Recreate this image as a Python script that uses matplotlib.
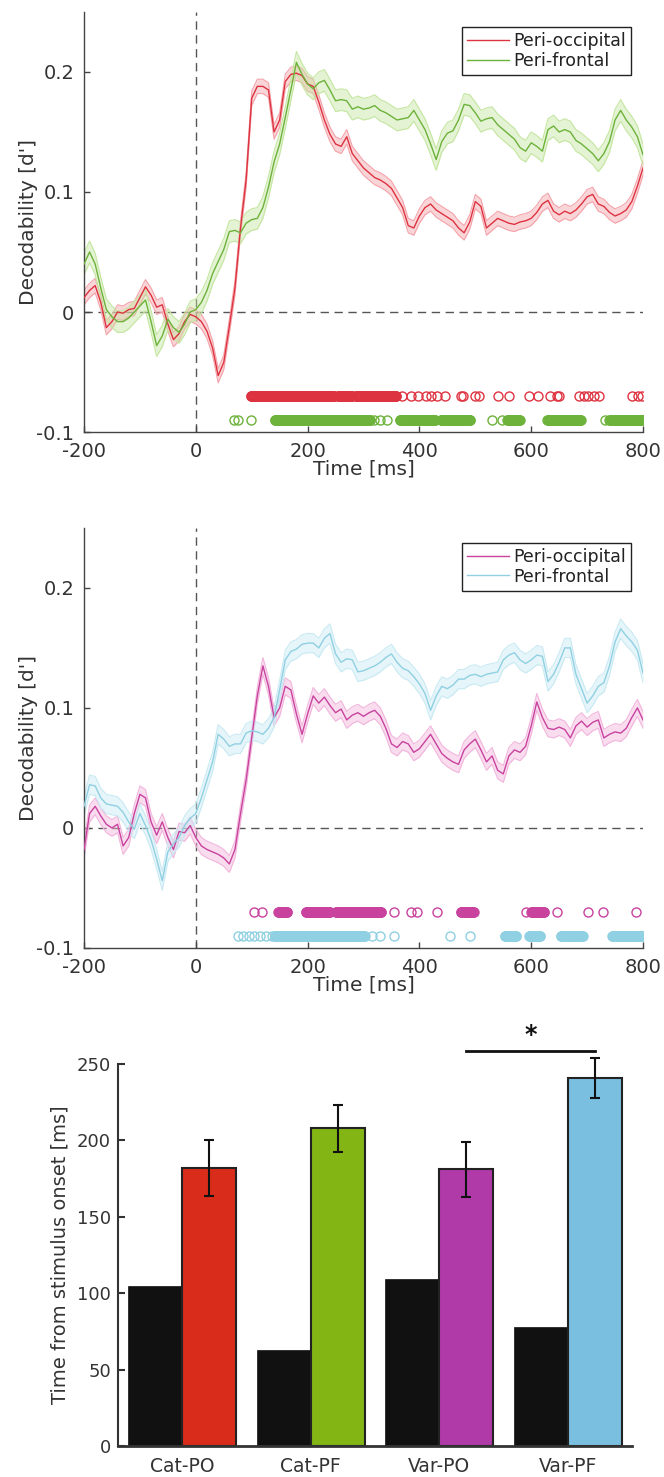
import numpy as np
import matplotlib
matplotlib.use("Agg")
import matplotlib.pyplot as plt

# time axis of the decoding curves (ms), read every 10 ms
time = np.arange(-200, 801, 10)

# panel 1: category decoding
cat_po = [0.012, 0.018, 0.022, 0.008, -0.013, -0.008, 0.000, -0.001, 0.002, 0.003,
          0.012, 0.021, 0.014, 0.004, 0.006, -0.010, -0.023, -0.018, -0.008, -0.002,
          -0.004, -0.008, -0.016, -0.030, -0.053, -0.042, -0.012, 0.020, 0.070, 0.110,
          0.178, 0.188, 0.188, 0.185, 0.150, 0.160, 0.192, 0.198, 0.199, 0.197,
          0.190, 0.188, 0.175, 0.160, 0.148, 0.140, 0.138, 0.146, 0.132, 0.126,
          0.120, 0.116, 0.112, 0.110, 0.107, 0.103, 0.095, 0.087, 0.072, 0.070,
          0.080, 0.087, 0.090, 0.085, 0.082, 0.079, 0.076, 0.070, 0.066, 0.075,
          0.092, 0.088, 0.070, 0.074, 0.078, 0.076, 0.074, 0.073, 0.075, 0.076,
          0.078, 0.083, 0.090, 0.093, 0.084, 0.081, 0.084, 0.082, 0.085, 0.090,
          0.096, 0.098, 0.090, 0.088, 0.083, 0.080, 0.082, 0.085, 0.092, 0.105,
          0.120]
cat_pf = [0.040, 0.050, 0.040, 0.020, 0.002, -0.004, -0.008, -0.008, -0.005, 0.000,
          0.005, 0.010, -0.008, -0.028, -0.020, -0.006, -0.013, -0.017, -0.010, 0.000,
          0.002, 0.008, 0.018, 0.032, 0.042, 0.052, 0.067, 0.068, 0.066, 0.074,
          0.077, 0.078, 0.087, 0.104, 0.125, 0.140, 0.162, 0.185, 0.208, 0.198,
          0.190, 0.186, 0.191, 0.193, 0.185, 0.176, 0.177, 0.176, 0.169, 0.171,
          0.169, 0.170, 0.172, 0.168, 0.166, 0.163, 0.160, 0.161, 0.162, 0.168,
          0.160, 0.152, 0.140, 0.127, 0.142, 0.149, 0.151, 0.160, 0.173, 0.172,
          0.166, 0.159, 0.161, 0.162, 0.156, 0.152, 0.148, 0.144, 0.137, 0.134,
          0.141, 0.138, 0.134, 0.152, 0.155, 0.150, 0.152, 0.150, 0.143, 0.140,
          0.136, 0.132, 0.126, 0.132, 0.142, 0.160, 0.168, 0.160, 0.154, 0.146,
          0.131]

# panel 2: variation decoding
var_po = [-0.018, 0.012, 0.018, 0.010, 0.003, 0.000, 0.003, -0.015, -0.008, 0.012,
          0.028, 0.025, 0.005, -0.006, 0.005, -0.008, -0.018, -0.003, -0.004, 0.002,
          -0.008, -0.015, -0.018, -0.020, -0.022, -0.025, -0.030, -0.018, 0.012, 0.040,
          0.075, 0.110, 0.135, 0.118, 0.092, 0.100, 0.118, 0.115, 0.095, 0.078,
          0.095, 0.110, 0.104, 0.109, 0.102, 0.096, 0.099, 0.090, 0.094, 0.096,
          0.093, 0.096, 0.098, 0.093, 0.083, 0.070, 0.067, 0.072, 0.070, 0.063,
          0.066, 0.072, 0.078, 0.070, 0.062, 0.058, 0.055, 0.053, 0.065, 0.070,
          0.074, 0.065, 0.055, 0.060, 0.048, 0.045, 0.060, 0.065, 0.063, 0.068,
          0.085, 0.105, 0.092, 0.083, 0.082, 0.084, 0.082, 0.075, 0.085, 0.089,
          0.084, 0.088, 0.090, 0.075, 0.078, 0.080, 0.079, 0.083, 0.092, 0.100,
          0.090]
var_pf = [0.018, 0.036, 0.035, 0.025, 0.020, 0.019, 0.018, 0.013, 0.005, -0.001,
          0.012, 0.002, -0.010, -0.026, -0.044, -0.020, -0.013, -0.008, 0.002, 0.008,
          0.012, 0.025, 0.040, 0.055, 0.078, 0.074, 0.068, 0.070, 0.070, 0.079,
          0.081, 0.080, 0.078, 0.083, 0.092, 0.115, 0.140, 0.147, 0.149, 0.153,
          0.154, 0.154, 0.150, 0.158, 0.162, 0.145, 0.138, 0.141, 0.140, 0.130,
          0.131, 0.133, 0.135, 0.138, 0.142, 0.145, 0.138, 0.133, 0.131, 0.126,
          0.120, 0.112, 0.098, 0.110, 0.118, 0.116, 0.119, 0.124, 0.124, 0.127,
          0.128, 0.126, 0.128, 0.129, 0.130, 0.140, 0.144, 0.146, 0.140, 0.137,
          0.140, 0.144, 0.143, 0.122, 0.128, 0.138, 0.150, 0.150, 0.128, 0.116,
          0.104, 0.110, 0.118, 0.121, 0.135, 0.155, 0.166, 0.160, 0.155, 0.148,
          0.129]

# standard error half-widths (d')
sem_cat_po, sem_cat_pf = 0.006, 0.009
sem_var_po, sem_var_pf = 0.007, 0.008

# significant time points: dense windows (start, end) and single points, in ms
sig_cat_po_win = [(98, 248), (254, 280), (286, 359)]
sig_cat_po_pts = [369, 385, 398, 411, 421, 431, 445, 474, 478, 500, 507, 540, 560,
                  596, 613, 633, 646, 649, 686, 695, 702, 712, 722, 781, 791, 798]
sig_cat_pf_win = [(141, 312), (365, 428), (438, 491), (557, 580), (629, 689), (740, 801)]
sig_cat_pf_pts = [68, 75, 98, 319, 329, 342, 530, 547, 732]
sig_var_po_win = [(147, 164), (197, 240), (250, 332), (474, 497), (600, 623)]
sig_var_po_pts = [104, 118, 355, 385, 395, 431, 590, 646, 702, 729, 788]
sig_var_pf_win = [(141, 302), (553, 573), (596, 616), (653, 692), (745, 801)]
sig_var_pf_pts = [75, 85, 95, 105, 115, 125, 137, 316, 329, 355, 454, 491]

# latency bar chart
bar_labels = ["Cat-PO", "Cat-PF", "Var-PO", "Var-PF"]
onset = [105, 63, 109, 78]
peak = [182, 208, 181, 241]
peak_err = [18.5, 15.5, 18, 13]

red, green, purple, blue = "#d92c1a", "#83b515", "#b03aa8", "#7abfe0"
tick_gray = "#333333"


def sig_times(windows, points):
    t = list(points)
    for a, b in windows:
        t += list(np.arange(a, b + 1, 1))
    return np.array(sorted(t))


def decoding_panel(ax, y1, s1, y2, s2, c1, b1, c2, b2, sig1, sig2):
    ax.axvline(0, color="#555555", lw=1, ls=(0, (6, 4)), zorder=1)
    ax.axhline(0, color="#555555", lw=1, ls=(0, (6, 4)), zorder=1)
    for y, s, c, b, lab in [(y1, s1, c1, b1, "Peri-occipital"), (y2, s2, c2, b2, "Peri-frontal")]:
        y = np.array(y)
        ax.fill_between(time, y - s, y + s, color=b, alpha=0.45, lw=0, zorder=2)
        ax.plot(time, y - s, color=b, lw=0.8, zorder=2)
        ax.plot(time, y + s, color=b, lw=0.8, zorder=2)
        ax.plot(time, y, color=c, lw=1, label=lab, zorder=3)
    ax.plot(sig1, np.full(len(sig1), -0.07), "o", mfc="none", mec=c1, ms=6.5, mew=1, zorder=3)
    ax.plot(sig2, np.full(len(sig2), -0.09), "o", mfc="none", mec=c2, ms=6.5, mew=1, zorder=3)
    ax.set_xlim(-200, 800)
    ax.set_ylim(-0.1, 0.25)
    ax.set_xticks([-200, 0, 200, 400, 600, 800])
    ax.set_xticklabels(["-200", "0", "200", "400", "600", "800"])
    ax.set_yticks([-0.1, 0, 0.1, 0.2])
    ax.set_yticklabels(["-0.1", "0", "0.1", "0.2"])
    for sp in ["top", "right"]:
        ax.spines[sp].set_visible(False)
    for sp in ["left", "bottom"]:
        ax.spines[sp].set_color("#444444")
        ax.spines[sp].set_linewidth(1)
    ax.tick_params(direction="in", length=4, width=1, color="#444444",
                   labelsize=14, labelcolor=tick_gray, pad=7)
    ax.set_xlabel("Time [ms]", fontsize=14.5, color=tick_gray, labelpad=-1)
    ax.set_ylabel("Decodability [d']", fontsize=14.5, color=tick_gray)
    ax.yaxis.set_label_coords(-0.083, 0.5)
    leg = ax.legend(loc="upper right", bbox_to_anchor=(0.979, 0.965), borderaxespad=0,
                    fontsize=12.5, handlelength=2.4, handletextpad=0.25,
                    borderpad=0.3, labelspacing=0.1, fancybox=False, framealpha=1)
    leg.get_frame().set_edgecolor("#222222")
    leg.get_frame().set_linewidth(1)
    for t in leg.get_texts():
        t.set_color("#222222")


fig = plt.figure(figsize=(6.64, 14.77), dpi=100)

ax1 = fig.add_axes([0.1265, 0.7075, 0.8419, 0.2844])
decoding_panel(ax1, cat_po, sem_cat_po, cat_pf, sem_cat_pf,
               "#dd3340", "#f4a3aa", "#6db23a", "#c4e6a0",
               sig_times(sig_cat_po_win, sig_cat_po_pts),
               sig_times(sig_cat_pf_win, sig_cat_pf_pts))

ax2 = fig.add_axes([0.1265, 0.3582, 0.8419, 0.2844])
decoding_panel(ax2, var_po, sem_var_po, var_pf, sem_var_pf,
               "#c8429e", "#f2b5dc", "#8fd0e2", "#c9eaf3",
               sig_times(sig_var_po_win, sig_var_po_pts),
               sig_times(sig_var_pf_win, sig_var_pf_pts))

# bar chart of onset (black) and peak latencies
ax3 = fig.add_axes([0.1777, 0.0210, 0.7741, 0.2586])
x = np.arange(1, 5)
w = 0.42
ax3.bar(x - w / 2, onset, width=w, color="#111111", edgecolor="#111111", lw=0.5)
ax3.bar(x + w / 2, peak, width=w, color=[red, green, purple, blue],
        edgecolor="#222222", lw=1.5)
ax3.errorbar(x + w / 2, peak, yerr=peak_err, fmt="none", ecolor="#111111",
             elinewidth=1.5, capsize=3.5, capthick=1.5, clip_on=False)
ax3.plot([3 + w / 2, 4 + w / 2], [258.5, 258.5], color="#111111", lw=2, clip_on=False)
ax3.text(3.5 + w / 2, 261, "*", ha="center", va="bottom", fontsize=17,
         fontweight="bold", color="#111111")
ax3.set_xlim(0.5, 4.5)
ax3.set_ylim(0, 250)
ax3.set_xticks(x)
ax3.set_xticklabels(bar_labels)
ax3.set_yticks([0, 50, 100, 150, 200, 250])
for sp in ["top", "right"]:
    ax3.spines[sp].set_visible(False)
ax3.spines["left"].set_color("#333333")
ax3.spines["left"].set_linewidth(1.5)
ax3.spines["bottom"].set_color("#333333")
ax3.spines["bottom"].set_linewidth(2)
ax3.tick_params(axis="y", direction="in", length=5, width=1.5, color="#333333",
                labelsize=13, labelcolor=tick_gray, pad=5)
ax3.tick_params(axis="x", length=0, labelsize=13.5, labelcolor=tick_gray, pad=8)
ax3.set_ylabel("Time from stimulus onset [ms]", fontsize=14, color=tick_gray)
ax3.yaxis.set_label_coords(-0.095, 0.5)

fig.savefig("out.png", dpi=100)
